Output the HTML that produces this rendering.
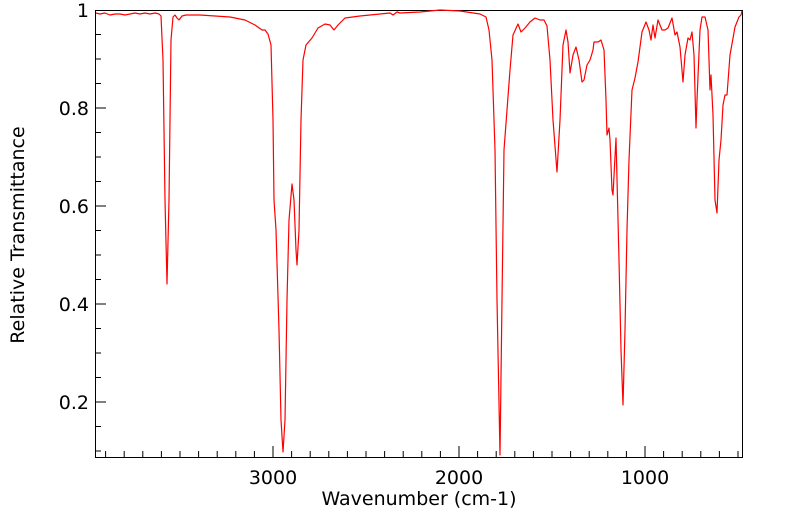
<!DOCTYPE html>
<html><head><style>body{margin:0;background:#fff}svg{display:block}text{font-family:"DejaVu Sans","Liberation Sans",sans-serif;fill:#000}</style></head>
<body>
<svg width="799" height="516" viewBox="0 0 799 516">
<rect x="95.5" y="10.5" width="647" height="447" fill="none" stroke="#000" stroke-width="1"/>
<g stroke="#000" stroke-width="1">
<line x1="95" y1="108" x2="106" y2="108"/><line x1="95" y1="206" x2="106" y2="206"/><line x1="95" y1="304" x2="106" y2="304"/><line x1="95" y1="402" x2="106" y2="402"/>
<line x1="95" y1="34.5" x2="101" y2="34.5"/><line x1="95" y1="59" x2="101" y2="59"/><line x1="95" y1="83.5" x2="101" y2="83.5"/>
<line x1="95" y1="132.5" x2="101" y2="132.5"/><line x1="95" y1="157" x2="101" y2="157"/><line x1="95" y1="181.5" x2="101" y2="181.5"/>
<line x1="95" y1="230.5" x2="101" y2="230.5"/><line x1="95" y1="255" x2="101" y2="255"/><line x1="95" y1="279.5" x2="101" y2="279.5"/>
<line x1="95" y1="328.5" x2="101" y2="328.5"/><line x1="95" y1="353" x2="101" y2="353"/><line x1="95" y1="377.5" x2="101" y2="377.5"/>
<line x1="95" y1="426.5" x2="101" y2="426.5"/><line x1="95" y1="451" x2="101" y2="451"/>
<line x1="273" y1="457" x2="273" y2="446"/><line x1="459" y1="457" x2="459" y2="446"/><line x1="645" y1="457" x2="645" y2="446"/>
<line x1="105.6" y1="457" x2="105.6" y2="451"/><line x1="124.2" y1="457" x2="124.2" y2="451"/><line x1="142.8" y1="457" x2="142.8" y2="451"/><line x1="161.4" y1="457" x2="161.4" y2="451"/><line x1="180" y1="457" x2="180" y2="451"/><line x1="198.6" y1="457" x2="198.6" y2="451"/><line x1="217.2" y1="457" x2="217.2" y2="451"/><line x1="235.8" y1="457" x2="235.8" y2="451"/><line x1="254.4" y1="457" x2="254.4" y2="451"/>
<line x1="291.6" y1="457" x2="291.6" y2="451"/><line x1="310.2" y1="457" x2="310.2" y2="451"/><line x1="328.8" y1="457" x2="328.8" y2="451"/><line x1="347.4" y1="457" x2="347.4" y2="451"/><line x1="366" y1="457" x2="366" y2="451"/><line x1="384.6" y1="457" x2="384.6" y2="451"/><line x1="403.2" y1="457" x2="403.2" y2="451"/><line x1="421.8" y1="457" x2="421.8" y2="451"/><line x1="440.4" y1="457" x2="440.4" y2="451"/>
<line x1="477.6" y1="457" x2="477.6" y2="451"/><line x1="496.2" y1="457" x2="496.2" y2="451"/><line x1="514.8" y1="457" x2="514.8" y2="451"/><line x1="533.4" y1="457" x2="533.4" y2="451"/><line x1="552" y1="457" x2="552" y2="451"/><line x1="570.6" y1="457" x2="570.6" y2="451"/><line x1="589.2" y1="457" x2="589.2" y2="451"/><line x1="607.8" y1="457" x2="607.8" y2="451"/><line x1="626.4" y1="457" x2="626.4" y2="451"/>
<line x1="663.6" y1="457" x2="663.6" y2="451"/><line x1="682.2" y1="457" x2="682.2" y2="451"/><line x1="700.8" y1="457" x2="700.8" y2="451"/><line x1="719.4" y1="457" x2="719.4" y2="451"/><line x1="738" y1="457" x2="738" y2="451"/>
</g>
<g font-size="19" text-anchor="end">
<text x="89" y="17">1</text><text x="89" y="115">0.8</text><text x="89" y="213">0.6</text><text x="89" y="311">0.4</text><text x="89" y="409">0.2</text>
</g>
<g font-size="19" text-anchor="middle">
<text x="273" y="484">3000</text><text x="459" y="484">2000</text><text x="645" y="484">1000</text>
<text x="419" y="505">Wavenumber (cm-1)</text>
<text transform="translate(24,235) rotate(-90)">Relative Transmittance</text>
</g>
<polyline fill="none" stroke="#f00" stroke-width="1.2" stroke-linejoin="round" points="
96,13 100,14 105,13 110,15 115,14 120,14 125,15 130,14 135,13 140,14 145,13 150,14 155,13 159,14 161,16 163,60 165,200 167,284 169,200 171,40 173,17 175,15 177,18 179,20 182,16 186,15 200,15 215,16 230,17 245,20 255,25 262,30 265,30 268,34 271,45 273,120 274,200 276,230 279,330 281,420 283,452 285,420 287,300 289,220 292,184 294,200 296,250 297,265 299,230 301,120 303,60 306,45 312,38 318,28 325,24 330,25 334,30 338,25 345,18 360,16 380,14 390,13 393,15 397,12 400,13 420,12 440,10 460,11 480,14 486,17 489,30 492,60 495,150 497,300 500,455 502,300 504,150 507,110 510,70 513,35 518,24 521,32 525,28 530,22 535,18 540,20 544,20 547,26 550,60 553,120 557,172 560,120 563,45 566,30 568,42 570,73 573,55 576,47 579,60 582,82 584,80 587,65 590,60 593,50 594,42 598,42 601,40 604,50 606,100 607,135 609,128 610,140 612,190 613,195 616,138 619,260 621,350 623,405 625,330 627,230 629,160 632,90 635,78 638,62 642,32 646,22 649,30 651,40 653,25 655,38 658,20 662,30 665,30 668,28 672,18 675,35 677,32 680,47 683,82 685,55 688,38 690,40 692,32 694,55 696,128 697,100 700,30 702,17 705,17 708,30 710,90 711,75 713,115 715,200 717,213 719,160 721,140 723,105 725,95 727,95 730,55 735,27 739,17 741,15 742,11"/>
</svg>
</body></html>
